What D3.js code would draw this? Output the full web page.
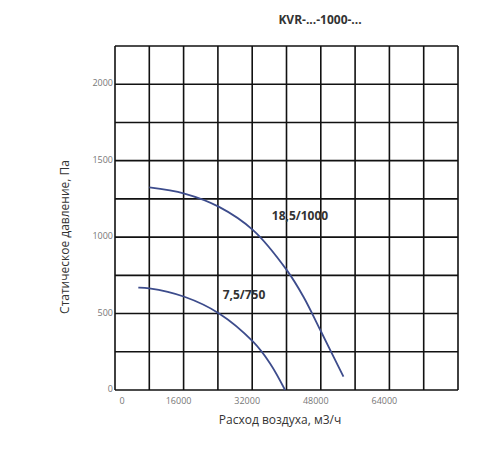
<!DOCTYPE html>
<html><head><meta charset="utf-8">
<script src="https://d3js.org/d3.v7.min.js"></script>
<style>body{margin:0;background:#fff;font-family:"Open Sans",sans-serif}</style>
</head><body>
<svg id="chart" width="500" height="450"></svg>
<script>
// кривые вентиляторов (расход м3/ч, давление Па)
var bigX = [8000, 16180, 24270, 32200, 40070, 43950, 48080, 53280];
var bigY = [1325, 1285, 1198, 1046, 784, 610, 381, 87];
var smallX = [5440, 8000, 16180, 24270, 32200, 36170, 39670];
var smallY = [669, 665, 610, 501, 316, 174, 0];
var xTicks = [0, 16000, 32000, 48000, 64000];
var yTicks = [0, 500, 1000, 1500, 2000];

var svg = d3.select("#chart");
var x = d3.scaleLinear().domain([0, 80000]).range([115, 458]);
var y = d3.scaleLinear().domain([0, 2250]).range([390, 46]);

// сетка
var g = svg.append("g").attr("stroke", "#111").attr("stroke-width", 1.6);
d3.range(0, 80001, 8000).forEach(v => {
  g.append("line").attr("x1", x(v)).attr("x2", x(v)).attr("y1", y(0)).attr("y2", y(2250));
});
d3.range(0, 2251, 250).forEach(v => {
  g.append("line").attr("x1", x(0)).attr("x2", x(80000)).attr("y1", y(v)).attr("y2", y(v));
});

svg.selectAll(".xt").data(xTicks).enter().append("text")
  .attr("x", d => d == 0 ? x(d) + 7 : x(d) - 5).attr("y", 404)
  .attr("text-anchor", "middle").attr("font-size", 9).attr("fill", "#777").text(d => d);
svg.selectAll(".yt").data(yTicks).enter().append("text")
  .attr("x", 113).attr("y", d => y(d) + 2).attr("text-anchor", "end")
  .attr("font-size", 9).attr("fill", "#777").text(d => d);

var line = d3.line().x(d => x(d[0])).y(d => y(d[1])).curve(d3.curveCatmullRom);
[[bigX, bigY], [smallX, smallY]].forEach(s => {
  svg.append("path").datum(s[0].map((v, i) => [v, s[1][i]])).attr("d", line)
    .attr("fill", "none").attr("stroke", "#3d4c8c").attr("stroke-width", 1.8);
});

svg.append("text").attr("x", 300).attr("y", 220).attr("text-anchor", "middle")
  .attr("font-size", 12).attr("font-weight", "bold").attr("fill", "#333").text("18,5/1000");
svg.append("text").attr("x", 244).attr("y", 299).attr("text-anchor", "middle")
  .attr("font-size", 12).attr("font-weight", "bold").attr("fill", "#333").text("7,5/750");

svg.append("text").attr("x", 320).attr("y", 24).attr("text-anchor", "middle")
  .attr("font-size", 12).attr("font-weight", "bold").attr("fill", "#333").text("KVR-...-1000-...");
svg.append("text").attr("x", 280).attr("y", 424).attr("text-anchor", "middle")
  .attr("font-size", 12).attr("fill", "#333").text("Расход воздуха, м3/ч");
svg.append("text").attr("transform", "translate(69,237) rotate(-90)").attr("text-anchor", "middle")
  .attr("font-size", 12).attr("fill", "#333").text("Статическое давление, Па");
</script>
</body></html>
